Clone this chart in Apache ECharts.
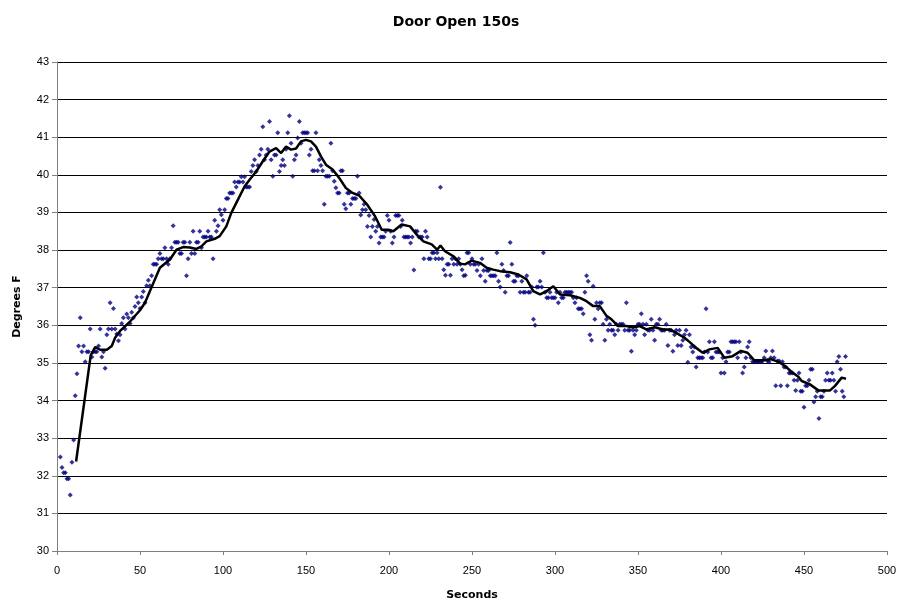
<!DOCTYPE html>
<html lang="en">
<head>
    <meta charset="UTF-8">
    <title>Door Open 150s</title>
    <script type="text/javascript" src="https://cdn.jsdelivr.net/npm/echarts@6/dist/echarts.min.js"></script>
    <style>
        html, body { margin: 0; padding: 0; background: #fff; }
        #chart { width: 912px; height: 606px; }
    </style>
</head>
<body>
<div id="chart"></div>
<script>
    // readings, one per second, starting at second 2
    var firstSecond = 2
    var temps = [
        32.5, 32.22, 32.08, 32.08, 31.92, 31.92, 31.49, 32.36, 32.95, 34.13, 34.71, 35.45,
        36.2, 35.3, 35.45, 35.03, 35.3, 35.3, 35.9, 35.16, 35.3, 35.3, 35.3, 35.45,
        35.9, 35.16, 35.3, 34.86, 35.75, 35.9, 36.6, 35.9, 36.45, 35.9, 35.77, 35.59,
        35.75, 36.05, 36.2, 35.9, 36.3, 36.2, 36.05, 36.35, 36.2, 36.5, 36.75, 36.6, 36.45, 36.75, 36.9, 36.6, 37.05, 37.2,
        37.05, 37.32, 37.62, 37.62, 37.62, 37.77, 37.91, 37.77, 37.77, 38.06, 37.77, 37.62, 37.77, 38.06, 38.65,
        38.21, 38.21, 38.21, 37.91, 37.91, 38.21, 38.21, 37.32, 37.77, 38.21, 37.91, 38.5, 37.91, 38.21, 38.21,
        38.5, 38.06, 38.35, 38.35, 38.35, 38.5, 38.35, 38.35, 37.77, 38.79, 38.5, 38.65, 39.07, 38.94, 38.79,
        39.07, 39.37, 39.37, 39.52, 39.52, 39.52, 39.81, 39.68, 39.81,
        39.81, 39.95, 39.81, 39.95, 39.68, 39.68, 39.68, 40.09, 40.25, 40.4, 40.09, 40.25, 40.53, 40.68, 41.28,
        40.4, 40.53, 40.68, 41.42, 40.4, 39.96, 40.53, 40.53, 41.12, 40.09, 40.25, 40.4, 40.25, 40.68, 41.12,
        41.57, 40.84, 39.96, 40.4, 40.53, 40.98, 41.42, 40.84, 41.12, 41.12, 41.12, 41.12, 40.53, 40.68, 40.11,
        40.11, 41.12, 40.11, 40.4, 40.25, 40.11, 39.22, 39.96, 39.96, 39.96, 40.84, 40.11, 39.83, 39.66, 39.52,
        39.52, 40.11, 40.11, 39.22, 39.1, 39.52, 39.52, 39.22, 39.37, 39.37, 39.37, 39.96, 39.52, 38.93, 39.07,
        39.22, 39.07, 38.63,
        38.92, 38.35, 38.63, 38.81, 38.5, 38.63, 38.19, 38.35, 38.35, 38.35, 38.5, 38.92, 38.79, 38.5, 38.19,
        38.35, 38.92, 38.92, 38.92, 38.63, 38.79, 38.35, 38.35, 38.35, 38.35, 38.19, 38.35, 37.47, 38.5, 38.5,
        38.35, 38.35, 38.35, 37.77, 38.5, 38.35, 37.77, 37.77, 37.93, 37.93, 37.77, 37.93, 37.77, 39.67, 37.77,
        37.48, 37.33, 37.62, 37.62, 37.33, 37.77, 37.62, 37.77, 37.62, 37.77, 37.62, 37.48, 37.32, 37.33, 37.93,
        37.93, 37.62, 37.77, 37.62, 37.62, 37.46, 37.62, 37.32, 37.77, 37.46, 37.17, 37.46, 37.46, 37.32, 37.32,
        37.32, 37.32, 37.93, 37.17, 37.02, 37.62, 37.46, 36.88, 37.32, 37.32, 38.2, 37.62, 37.17, 37.17, 37.32,
        37.32, 36.88, 37.17, 36.88, 36.88, 37.32, 36.88, 36.88, 37.02, 36.16, 36.0, 37.02, 37.02, 37.17, 37.02,
        37.93, 36.88, 36.73, 36.73, 36.88, 36.73, 36.73, 36.73, 36.88, 36.6, 36.88, 36.73, 36.73, 36.88, 36.88,
        36.88, 36.88, 36.88, 36.73, 36.6, 36.73, 36.44, 36.44, 36.44, 36.31, 36.88, 37.32, 37.17, 35.75, 35.6,
        37.04, 36.16, 36.6, 36.44, 36.6, 36.6, 36.03, 35.6, 36.16, 35.87, 36.03, 35.87, 35.87, 35.75, 36.03,
        35.87, 36.03, 36.03, 36.03, 35.87, 36.6, 35.87, 35.87, 35.31, 35.87, 35.75, 35.87, 36.03, 36.03, 36.31,
        36.03, 35.75, 36.03, 35.87, 35.87, 36.16, 35.87, 35.6, 36.03, 36.03, 36.16, 35.87, 35.87, 35.87, 36.03,
        35.46, 35.87, 35.87, 35.31, 35.75, 35.87, 35.46, 35.87, 35.46, 35.6, 35.75, 35.87, 35.02, 35.75, 35.42,
        35.29, 35.42, 34.89, 35.14, 35.14, 35.14, 35.14, 35.29, 36.44, 35.29, 35.56, 35.14, 35.14, 35.56, 35.29,
        35.29, 35.29, 34.73, 35.14, 34.73, 35.03, 35.29, 35.29, 35.56, 35.56, 35.56, 35.56, 35.14, 35.56, 35.29,
        34.73, 34.89, 35.14, 35.42, 35.56, 35.14, 35.03, 35.03, 35.03, 35.03, 35.03, 35.03, 35.05, 35.14, 35.32,
        35.05, 35.03, 35.14, 35.32, 35.14, 34.39, 35.05, 35.05, 34.39, 35.03, 34.89, 34.89, 34.39, 34.73, 34.73,
        34.73, 34.54, 34.27, 34.54, 34.73, 34.25, 34.25, 33.82, 34.39, 34.39, 34.54, 34.83, 34.83, 33.96, 34.1,
        34.25, 33.52, 34.1, 34.1, 34.25, 34.54, 34.73, 34.54, 34.54, 34.73, 34.54, 34.25, 35.03, 35.17, 34.83,
        34.25, 34.1, 35.17
    ]

    // running average line
    var avgSeconds = [
        11.5, 20.3, 23, 26, 30, 33, 35, 38, 44, 50, 53, 56, 62, 68, 72, 76, 80, 84, 87, 90,
        95, 98, 102, 105, 109, 113, 116, 120, 124, 128, 132, 135, 138, 141, 144, 147, 150, 153, 156, 159,
        162, 166, 170, 174, 178, 182, 187, 191.6, 195.6, 199.6, 202.6, 207.6, 212.7, 216.7, 220.7, 225.7, 229, 231, 233.7, 238.7,
        242.8, 245.8, 249.8, 254.8, 258.8, 262.8, 266.9, 272.9, 277.9, 282.9, 286.9, 291, 295, 299, 303, 309, 315, 319, 323, 327,
        331, 334, 338, 343, 347, 351, 355, 360, 365, 369, 373, 378, 381, 385, 389, 393, 398, 402, 407, 412,
        416, 420, 425, 430, 435, 438.5, 442.6, 446.6, 448.6, 453.6, 458.6, 465.7, 468.7, 472.7, 475.3
    ]
    var avgTemps = [
        32.38, 35.2, 35.42, 35.35, 35.35, 35.45, 35.67, 35.85, 36.1, 36.4, 36.6, 36.91, 37.53, 37.75, 38.01, 38.08, 38.07, 38.03, 38.1, 38.23,
        38.3, 38.37, 38.63, 38.99, 39.34, 39.69, 39.87, 40.09, 40.36, 40.62, 40.71, 40.58, 40.75, 40.67, 40.7, 40.89, 40.93, 40.89, 40.75, 40.49,
        40.27, 40.14, 39.92, 39.65, 39.52, 39.45, 39.2, 38.9, 38.54, 38.54, 38.5, 38.68, 38.63, 38.41, 38.23, 38.15, 38.01, 38.12, 37.97, 37.84,
        37.64, 37.62, 37.72, 37.66, 37.53, 37.48, 37.44, 37.41, 37.35, 37.22, 36.91, 36.82, 36.91, 37.04, 36.82, 36.8, 36.73, 36.64, 36.51, 36.51,
        36.25, 36.16, 35.98, 35.98, 35.94, 35.98, 35.89, 35.95, 35.89, 35.89, 35.8, 35.67, 35.56, 35.4, 35.27, 35.36, 35.4, 35.14, 35.18, 35.32,
        35.27, 35.07, 35.07, 35.1, 35.02, 34.92, 34.76, 34.63, 34.52, 34.43, 34.27, 34.27, 34.39, 34.61, 34.58
    ]

    var points = []
    for (var i = 0; i < temps.length; i++) {
        points.push([firstSecond + i, temps[i]])
    }
    var avgLine = []
    for (var j = 0; j < avgSeconds.length; j++) {
        avgLine.push([avgSeconds[j], avgTemps[j]])
    }

    var labelFont = {color: '#000', fontSize: 11, fontFamily: 'Liberation Sans'}
    var nameFont = {color: '#000', fontSize: 11, fontWeight: 'bold', fontFamily: 'DejaVu Sans'}

    var chart = echarts.init(document.getElementById("chart"), null, {renderer: 'canvas'})
    chart.setOption({
        animation: false,
        backgroundColor: '#fff',
        title: {
            text: 'Door Open 150s',
            left: 'center',
            top: 10,
            textStyle: {fontSize: 14, fontWeight: 'bold', color: '#000', fontFamily: 'DejaVu Sans'}
        },
        grid: {left: 57, right: 25, top: 62, bottom: 53},
        xAxis: {
            type: 'value',
            min: 0, max: 500, interval: 50,
            name: 'Seconds',
            nameLocation: 'middle',
            nameGap: 39,
            nameTextStyle: nameFont,
            axisLine: {lineStyle: {color: '#808080'}},
            axisTick: {show: true, length: 4, lineStyle: {color: '#808080'}},
            axisLabel: Object.assign({margin: 14}, labelFont),
            splitLine: {show: false}
        },
        yAxis: {
            type: 'value',
            min: 30, max: 43, interval: 1,
            name: 'Degrees F',
            nameLocation: 'middle',
            nameGap: 34,
            nameTextStyle: nameFont,
            axisLine: {show: true, lineStyle: {color: '#808080'}},
            axisTick: {show: true, length: 5, lineStyle: {color: '#808080'}},
            axisLabel: Object.assign({margin: 8}, labelFont),
            splitLine: {show: true, lineStyle: {color: '#000', width: 1}}
        },
        series: [
            {
                type: 'scatter',
                data: points,
                symbol: 'diamond',
                symbolSize: 5,
                itemStyle: {color: '#000080'},
                z: 2
            },
            {
                type: 'line',
                data: avgLine,
                showSymbol: false,
                symbol: 'none',
                lineStyle: {color: '#000', width: 2.5},
                z: 3
            }
        ]
    })
</script>
</body>
</html>
